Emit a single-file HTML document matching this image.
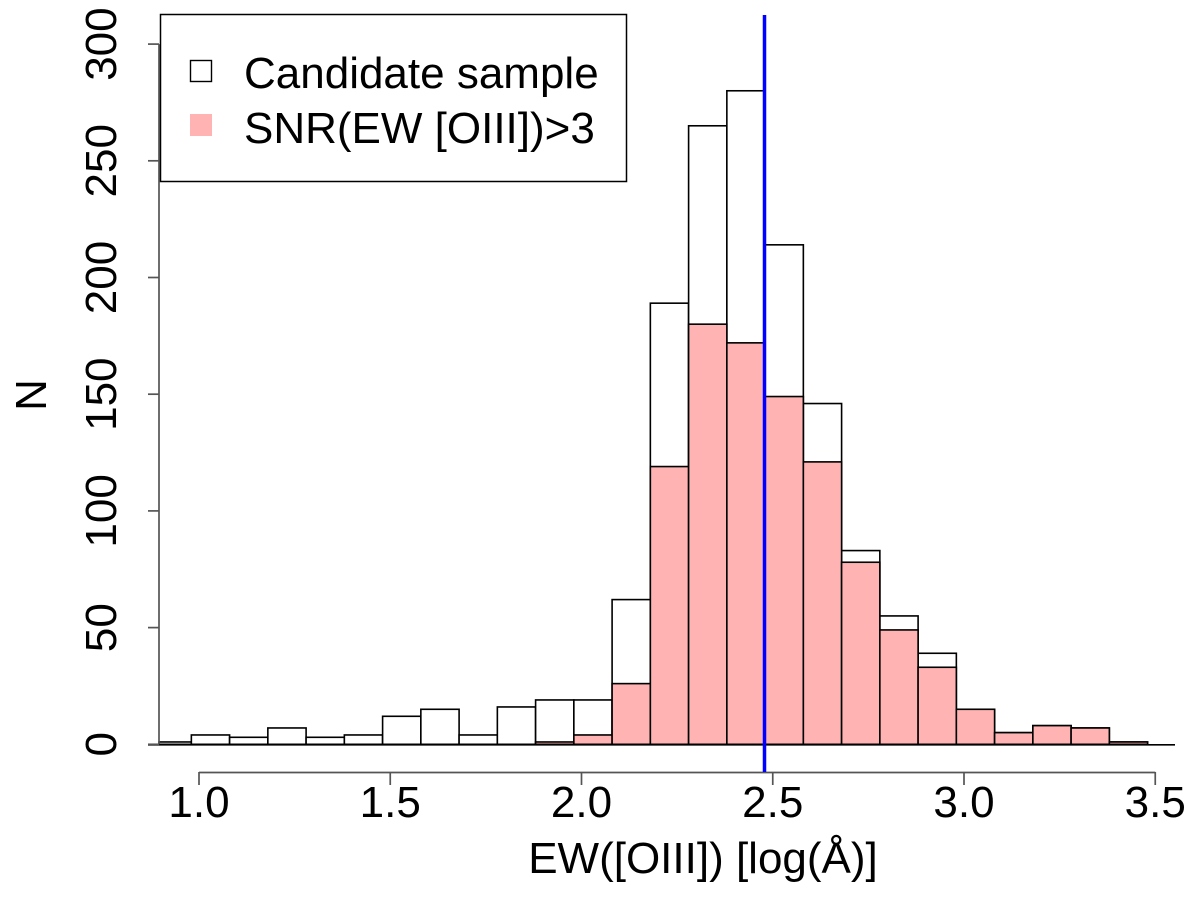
<!DOCTYPE html>
<html><head><meta charset="utf-8"><style>body{margin:0;background:#fff}svg{display:block}text{font-family:"Liberation Sans",sans-serif;fill:#000}</style></head>
<body>
<svg id="chart" width="1200" height="924" viewBox="0 0 1200 924" xmlns="http://www.w3.org/2000/svg">
<g id="bars-all"></g>
<g id="bars-snr"></g>
<g id="axes"></g>
<line x1="764.5" y1="15" x2="764.5" y2="772" stroke="#0000ff" stroke-width="3.5"/>
<g>
<rect x="160.5" y="14.5" width="466" height="167" fill="#fff" stroke="#000" stroke-width="1.5"/>
<rect x="190.5" y="60.5" width="21" height="21" fill="#fff" stroke="#000" stroke-width="1.4"/>
<text x="244" y="88" font-size="44">Candidate sample</text>
<rect x="190" y="114" width="22" height="22" fill="#ffb3b3"/>
<text x="244" y="143" font-size="44">SNR(EW [OIII])&gt;3</text>
</g>
<text x="703" y="873" font-size="44" text-anchor="middle">EW([OIII]) [log(Å)]</text>
<text transform="translate(46,395) rotate(-90)" font-size="44" text-anchor="middle">N</text>
</svg>
<script>
const binStarts = [0.88,0.98,1.08,1.18,1.28,1.38,1.48,1.58,1.68,1.78,1.88,1.98,2.08,2.18,2.28,2.38,2.48,2.58,2.68,2.78,2.88,2.98,3.08,3.18,3.28,3.38];
const candidateCounts = [1,4,3,7,3,4,12,15,4,16,19,19,62,189,265,280,214,146,83,55,39,15,5,8,7,1];
const snrCounts = [0,0,0,0,0,0,0,0,0,0,1,4,26,119,180,172,149,121,78,49,33,15,5,8,7,1];
const xTicks = [1.0,1.5,2.0,2.5,3.0,3.5];
const xTickLabels = ["1.0","1.5","2.0","2.5","3.0","3.5"];
const yTicks = [0,50,100,150,200,250,300];
const binWidth = 0.1;
const NS="http://www.w3.org/2000/svg";
const X = v => 199 + (v-1)*382.5;
const Y = v => 744.3 - v*2.334;
function mk(tag, attrs, parent){const e=document.createElementNS(NS,tag);for(const k in attrs)e.setAttribute(k,attrs[k]);parent.appendChild(e);return e;}
const gA=document.getElementById('bars-all'), gS=document.getElementById('bars-snr'), gX=document.getElementById('axes');
binStarts.forEach((b,i)=>{
  const x0=Math.max(X(b),159), x1=X(b+binWidth);
  const r=mk('rect',{x:x0,y:Y(candidateCounts[i]),width:x1-x0,height:Y(0)-Y(candidateCounts[i]),fill:'#fff',stroke:'#000','stroke-width':1.6},gA);
  
  
  if(snrCounts[i]>0){
    const s=mk('rect',{x:x0,y:Y(snrCounts[i]),width:x1-x0,height:Y(0)-Y(snrCounts[i]),fill:'#ffb3b3',stroke:'#000','stroke-width':1.6},gS);
    
    
  }
});
let l=mk('line',{x1:148,y1:Y(0)+0.5,x2:1175,y2:Y(0)+0.5,stroke:'#000','stroke-width':1.6},gX);


l=mk('line',{x1:159,y1:Y(0),x2:159,y2:Y(300),stroke:'#555','stroke-width':1.7},gX);


l=mk('line',{x1:X(1),y1:772.5,x2:X(3.5),y2:772.5,stroke:'#555','stroke-width':1.7},gX);


yTicks.forEach(v=>{
  const t=mk('line',{x1:148,y1:Y(v),x2:159,y2:Y(v),stroke:'#555','stroke-width':1.7},gX);
  
  
  const tx=mk('text',{transform:`translate(116,${Y(v)}) rotate(-90)`,'font-size':44,'text-anchor':'middle'},gX);
  tx.textContent=String(v);
  
  
});
xTicks.forEach((v,i)=>{
  const t=mk('line',{x1:X(v),y1:772,x2:X(v),y2:785,stroke:'#555','stroke-width':1.7},gX);
  
  
  const tx=mk('text',{x:X(v),y:817,'font-size':44,'text-anchor':'middle'},gX);
  tx.textContent=xTickLabels[i];
  
  
});
</script>
</body></html>
